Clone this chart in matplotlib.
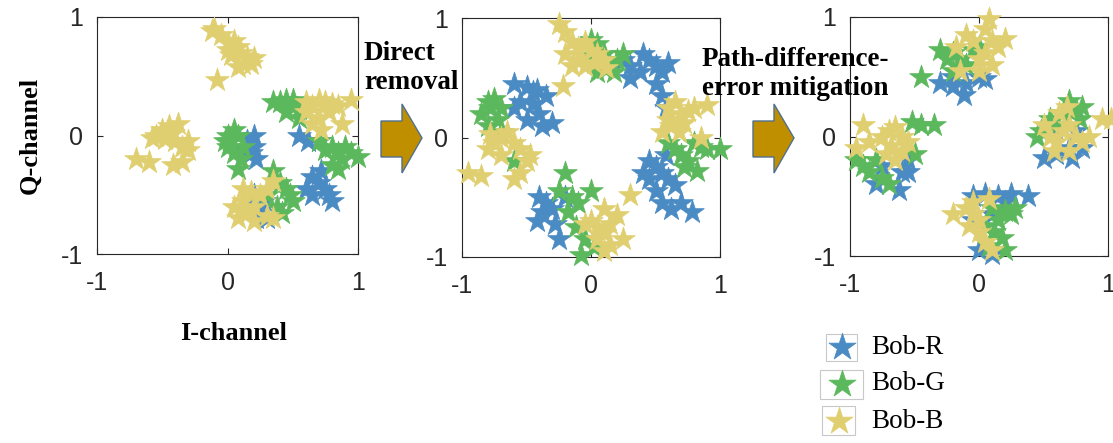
"""Constellation scatter of the three Bob receivers before and after correction."""

import matplotlib

matplotlib.use("Agg")
import matplotlib.pyplot as plt
from matplotlib.patches import Polygon, Rectangle

W, H = 1113, 443

BLUE = "#4a8bc4"
GREEN = "#5cb85c"
YELLOW = "#e0cf70"
ARROW_FACE = "#bf8f00"
ARROW_EDGE = "#50708f"

# Panel 1: raw received symbols
raw_r_i = [0.15, 0.20, 0.18, 0.22, 0.12, 0.20, 0.55, 0.62, 0.70, 0.65, 0.70, 0.75, 0.80, 0.65, 0.72, 0.60, 0.78, 0.20, 0.25, 0.30, 0.22, 0.28]
raw_r_q = [-0.05, -0.10, -0.15, -0.20, -0.12, 0.00, 0.00, -0.05, -0.05, -0.35, -0.40, -0.45, -0.55, -0.50, -0.30, -0.45, -0.50, -0.50, -0.60, -0.70, -0.70, -0.55]
raw_g_i = [0.00, 0.02, 0.05, 0.00, 0.05, 0.10, 0.08, -0.02, 0.08, 0.12, 0.45, 0.40, 0.50, 0.55, 0.45, 0.50, 0.55, 0.35, 0.80, 0.85, 0.90, 0.95, 0.80, 0.85, 0.75, 0.88, 0.70, 1.00, 0.35, 0.40, 0.45, 0.50, 0.38, 0.42, 0.30, 0.48]
raw_g_q = [0.00, -0.05, 0.05, -0.10, -0.15, -0.20, -0.28, -0.05, 0.00, -0.10, 0.30, 0.28, 0.25, 0.22, 0.20, 0.30, 0.15, 0.28, -0.10, -0.15, -0.10, -0.15, -0.25, -0.28, -0.12, -0.20, -0.05, -0.18, -0.30, -0.40, -0.45, -0.55, -0.60, -0.65, -0.50, -0.50]
raw_b_i = [-0.10, -0.05, 0.00, 0.05, 0.08, 0.10, 0.03, 0.15, 0.20, 0.12, 0.08, -0.08, 0.00, -0.12, 0.18,
           -0.70, -0.60, -0.55, -0.50, -0.45, -0.42, -0.38, -0.40, -0.48, -0.35, -0.30, -0.35, -0.42, -0.30, -0.58,
           0.60, 0.65, 0.70, 0.75, 0.80, 0.85, 0.95, 0.70, 0.65, 0.72, 0.88, 0.60, 0.78,
           0.05, 0.10, 0.12, 0.15, 0.20, 0.25, 0.30, 0.35, 0.08, 0.20, 0.30, 0.35, 0.18, 0.12]
raw_b_q = [0.90, 0.85, 0.78, 0.80, 0.75, 0.70, 0.68, 0.66, 0.65, 0.60, 0.58, 0.47, 0.72, 0.88, 0.60,
           -0.20, -0.22, 0.00, 0.05, 0.08, 0.02, 0.10, -0.05, -0.03, -0.10, -0.12, -0.22, -0.25, -0.05, -0.02,
           0.28, 0.25, 0.30, 0.28, 0.27, 0.25, 0.30, 0.15, 0.10, 0.05, 0.10, 0.20, 0.20,
           -0.60, -0.62, -0.55, -0.65, -0.60, -0.50, -0.45, -0.38, -0.70, -0.72, -0.68, -0.70, -0.48, -0.45]

# Panel 2: after direct removal
dr_r_i = [0.25, 0.30, 0.40, 0.45, 0.50, 0.55, 0.38, 0.60, 0.30, 0.50, 0.55, 0.58,
          -0.60, -0.50, -0.45, -0.55, -0.60, -0.45, -0.40, -0.30, -0.38, -0.50, -0.42, -0.35,
          0.45, 0.50, 0.55, 0.60, 0.65, 0.50, 0.55, 0.62, 0.70, 0.78, 0.45, 0.58, 0.40,
          -0.40, -0.35, -0.30, -0.38, -0.28, -0.25, -0.42, -0.20]
dr_r_q = [0.65, 0.60, 0.70, 0.65, 0.60, 0.55, 0.55, 0.62, 0.50, 0.45, 0.35, 0.25,
          0.45, 0.42, 0.38, 0.30, 0.25, 0.28, 0.20, 0.12, 0.10, 0.15, 0.40, 0.35,
          -0.20, -0.25, -0.30, -0.35, -0.40, -0.45, -0.55, -0.60, -0.55, -0.62, -0.35, -0.15, -0.30,
          -0.50, -0.55, -0.60, -0.62, -0.72, -0.85, -0.70, -0.50]
dr_g_i = [0.00, 0.05, 0.10, 0.15, 0.20, 0.25, 0.05, 0.10, 0.18, 0.00,
          -0.80, -0.75, -0.70, -0.72, -0.80, -0.85, -0.70, -0.78,
          0.65, 0.70, 0.75, 0.80, 0.85, 0.90, 1.00, 0.82, 0.60, 0.72,
          -0.20, -0.25, -0.15, -0.10, 0.00, -0.18, -0.12, -0.05, -0.08, 0.02, -0.60]
dr_g_q = [0.82, 0.78, 0.70, 0.60, 0.65, 0.70, 0.55, 0.58, 0.55, 0.68,
          0.30, 0.32, 0.25, 0.15, 0.10, 0.20, 0.05, 0.25,
          -0.10, -0.15, -0.20, -0.05, -0.08, -0.10, -0.10, -0.28, -0.05, -0.25,
          -0.30, -0.45, -0.50, -0.55, -0.45, -0.62, -0.75, -0.85, -0.98, -0.92, -0.20]
dr_b_i = [-0.25, -0.20, -0.15, -0.10, -0.05, 0.00, 0.05, -0.10, -0.05, 0.02, 0.10, -0.20, -0.22, 0.12, -0.15,
          0.60, 0.65, 0.70, 0.62, 0.68, 0.75, 0.80, 0.90, 0.55, 0.72, 0.85, 0.60,
          -0.95, -0.85, -0.80, -0.75, -0.70, -0.65, -0.60, -0.55, -0.50, -0.55, -0.60, -0.70, -0.78, -0.47,
          0.00, 0.05, 0.10, 0.15, 0.20, 0.10, 0.25, 0.05, 0.15, 0.30, -0.05, 0.10]
dr_b_q = [0.95, 0.88, 0.80, 0.75, 0.80, 0.72, 0.70, 0.65, 0.60, 0.62, 0.65, 0.70, 0.43, 0.58, 0.60,
          0.25, 0.30, 0.20, 0.10, 0.05, 0.22, 0.25, 0.27, 0.05, 0.12, 0.00, 0.15,
          -0.30, -0.32, -0.10, -0.05, 0.00, 0.05, -0.05, -0.10, -0.20, -0.30, -0.35, -0.15, 0.03, -0.15,
          -0.70, -0.75, -0.80, -0.72, -0.65, -0.60, -0.85, -0.85, -0.90, -0.48, -0.72, -0.95]

# Panel 3: after path-difference-error mitigation
pm_r_i = [-0.30, -0.20, -0.12, -0.10, 0.00, 0.05, -0.20,
          -0.80, -0.60, -0.55, -0.62, -0.55, -0.75,
          0.50, 0.60, 0.70, 0.75, 0.80, 0.60, 0.72,
          -0.05, 0.05, 0.15, 0.25, 0.38, 0.00, 0.10, -0.05, 0.10, 0.20]
pm_r_q = [0.45, 0.42, 0.35, 0.45, 0.50, 0.48, 0.50,
          -0.40, -0.30, -0.30, -0.45, -0.20, -0.25,
          -0.18, -0.15, -0.10, 0.05, -0.10, 0.05, -0.18,
          -0.50, -0.48, -0.50, -0.48, -0.50, -0.95, -0.98, -0.70, -0.65, -0.55]
pm_g_i = [-0.45, -0.30, -0.25, -0.20, -0.15, -0.10, -0.20, -0.05, 0.00,
          -0.95, -0.90, -0.85, -0.75, -0.70, -0.50, -0.45, -0.35, -0.52, -0.80,
          0.45, 0.55, 0.65, 0.70, 0.75, 0.80, 0.60, 0.78, 0.48,
          0.10, 0.15, 0.20, 0.25, 0.12, 0.18, 0.20, 0.08, 0.28, 0.05]
pm_g_q = [0.50, 0.72, 0.65, 0.70, 0.65, 0.60, 0.55, 0.72, 0.75,
          -0.20, -0.25, -0.30, -0.35, -0.40, -0.15, 0.10, 0.10, 0.12, -0.20,
          0.00, 0.15, 0.20, 0.30, 0.22, 0.25, 0.10, 0.15, 0.05,
          -0.60, -0.70, -0.62, -0.65, -0.80, -0.85, -0.95, -0.92, -0.60, -0.75]
pm_b_i = [-0.10, -0.05, 0.05, 0.10, 0.15, 0.20, 0.05, 0.10, 0.00, -0.15, -0.18, 0.08, 0.00,
          -0.90, -0.95, -0.85, -0.75, -0.70, -0.65, -0.60, -0.68, -0.72, -0.60, -0.65, -0.55,
          0.50, 0.55, 0.60, 0.65, 0.70, 0.75, 0.80, 0.85, 0.62, 0.68, 0.95, 1.02, 0.70, 0.58,
          -0.20, -0.10, -0.05, 0.00, -0.08, 0.00, 0.05, 0.10, 0.08, -0.05]
pm_b_q = [0.85, 0.80, 0.90, 0.80, 0.75, 0.82, 0.70, 0.60, 0.65, 0.55, 0.75, 0.98, 0.55,
          0.10, -0.10, -0.05, 0.00, 0.05, 0.08, 0.00, -0.08, -0.15, -0.12, -0.20, -0.05,
          0.10, 0.00, -0.05, 0.05, 0.10, 0.00, -0.05, 0.00, 0.20, 0.25, 0.15, 0.15, -0.12, -0.12,
          -0.65, -0.60, -0.65, -0.70, -0.75, -0.80, -0.88, -0.95, -0.52, -0.55]

panels = [
    ((raw_r_i, raw_r_q), (raw_g_i, raw_g_q), (raw_b_i, raw_b_q)),
    ((dr_r_i, dr_r_q), (dr_g_i, dr_g_q), (dr_b_i, dr_b_q)),
    ((pm_r_i, pm_r_q), (pm_g_i, pm_g_q), (pm_b_i, pm_b_q)),
]
series_names = ["Bob-R", "Bob-G", "Bob-B"]
series_colors = [BLUE, GREEN, YELLOW]
ticks = [-1, 0, 1]

# axes boxes in pixels: left, top, right, bottom
boxes = [(97, 17, 358, 254), (462, 18, 720, 257), (850, 17, 1108, 256)]

plt.rcParams["font.family"] = ["Liberation Sans", "DejaVu Sans"]
fig = plt.figure(figsize=(W / 100, H / 100), dpi=100)

for k, ((l, t, r, b), data) in enumerate(zip(boxes, panels)):
    ax = fig.add_axes([l / W, 1 - b / H, (r - l) / W, (b - t) / H])
    for (xs, ys), c in zip(data, series_colors):
        ax.scatter(xs, ys, marker="*", s=320, color=c, edgecolors=c,
                   linewidths=0.5, clip_on=False, zorder=3)
    ax.set_xlim(-1, 1)
    ax.set_ylim(-1, 1)
    ax.set_xticks(ticks)
    ax.set_yticks(ticks)
    ax.set_xticklabels([str(v) for v in ticks])
    ax.set_yticklabels([str(v) for v in ticks])
    ax.tick_params(direction="in", length=4, width=0.8, colors="#262626",
                   labelsize=18, top=True, right=True)
    ax.tick_params(axis="x", pad=12)
    ax.tick_params(axis="y", pad=10)
    for sp in ax.spines.values():
        sp.set_color("#262626")
        sp.set_linewidth(0.8)
    if k == 0:
        ax.set_xlabel("I-channel", family="Liberation Serif", fontweight="bold",
                      fontsize=19, color="black")
        ax.set_ylabel("Q-channel", family="Liberation Serif", fontweight="bold",
                      fontsize=19, color="black")
        w_px, h_px = r - l, b - t
        ax.xaxis.set_label_coords((234 - l) / w_px, (b - 333) / h_px)
        ax.yaxis.set_label_coords((30 - l) / w_px, (b - 135) / h_px)
        ax.xaxis.label.set_va("center")
        ax.yaxis.label.set_va("center")

# block arrows between the panels
overlay = fig.add_axes([0, 0, 1, 1], zorder=5)
overlay.set_xlim(0, W)
overlay.set_ylim(H, 0)
overlay.axis("off")
for x0 in (381, 753):
    pts = [(x0, 121), (x0 + 21, 121), (x0 + 21, 104), (x0 + 41, 138),
           (x0 + 21, 173), (x0 + 21, 157), (x0, 157)]
    overlay.add_patch(Polygon(pts, closed=True, facecolor=ARROW_FACE,
                              edgecolor=ARROW_EDGE, linewidth=1))

overlay.text(364, 68, "Direct\nremoval", family="Liberation Serif",
             fontweight="bold", fontsize=19.5, ha="left", va="center",
             linespacing=1.2)
overlay.text(702, 74, "Path-difference-\nerror mitigation", family="Liberation Serif",
             fontweight="bold", fontsize=19.5, ha="left", va="center",
             linespacing=1.2)

# legend with boxed star markers
legend_rows = [(347, (826, 334, 31, 27)), (384, (820, 370, 43, 29)), (421, (822, 406, 33, 29))]
for name, c, (yc, (bx, by, bw, bh)) in zip(series_names, series_colors, legend_rows):
    overlay.add_patch(Rectangle((bx, by), bw, bh, facecolor="none",
                                edgecolor="#c8c8c8", linewidth=0.8))
    overlay.scatter([bx + bw / 2], [yc], marker="*", s=420, color=c, edgecolors=c, linewidths=0.5)
    overlay.text(871, yc, name, family="Liberation Serif", fontsize=19.5,
                 ha="left", va="center")

fig.savefig("out.png", dpi=100)
